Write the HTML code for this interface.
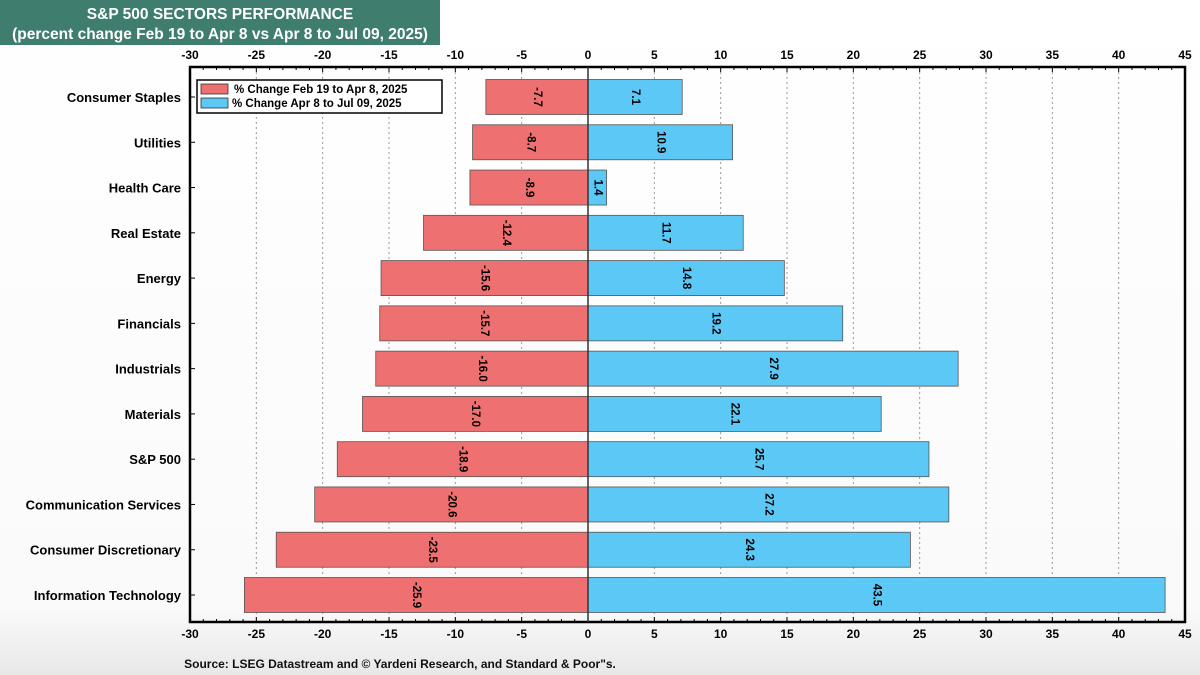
<!DOCTYPE html>
<html><head><meta charset="utf-8"><style>
body{margin:0;background:#fff;}
svg{display:block;font-family:"Liberation Sans",Arial,sans-serif;}
</style></head><body>
<svg id="c" width="1200" height="675">
<defs><linearGradient id="bg" x1="0" y1="0" x2="0" y2="1"><stop offset="0" stop-color="#fff"/><stop offset="0.9" stop-color="#fafafa"/><stop offset="1" stop-color="#e8e8e8"/></linearGradient></defs>
<rect width="1200" height="675" fill="url(#bg)"/>
<g>
<rect x="0" y="0" width="440" height="45" fill="#3f7d6e"/>
<text x="220" y="19" fill="#fff" font-size="15.5" font-weight="bold" text-anchor="middle">S&amp;P 500 SECTORS PERFORMANCE</text>
<text x="220" y="39" fill="#fff" font-size="15.5" font-weight="bold" text-anchor="middle">(percent change Feb 19 to Apr 8 vs Apr 8 to Jul 09, 2025)</text>
</g>
<g id="grid"></g><g id="bars"></g><g id="axes"></g>
<g>
<rect x="197" y="80" width="245" height="33" fill="#fff" stroke="#000" stroke-width="1.5"/>
<rect x="201" y="84" width="27" height="10" fill="#ee7070" stroke="#333" stroke-width="0.8"/>
<text x="234" y="93" font-size="11.5" font-weight="bold">% Change Feb 19 to Apr 8, 2025</text>
<rect x="201" y="98" width="27" height="10" fill="#5bc8f5" stroke="#333" stroke-width="0.8"/>
<text x="232" y="107" font-size="11.5" font-weight="bold">% Change Apr 8 to Jul 09, 2025</text>
</g>
<text x="400" y="668" font-size="12" font-weight="bold" text-anchor="middle" fill="#111">Source: LSEG Datastream and © Yardeni Research, and Standard &amp; Poor"s.</text>
</svg>
<script>
const categories=["Consumer Staples","Utilities","Health Care","Real Estate","Energy","Financials","Industrials","Materials","S&P 500","Communication Services","Consumer Discretionary","Information Technology"];
const febApr=[-7.7,-8.7,-8.9,-12.4,-15.6,-15.7,-16.0,-17.0,-18.9,-20.6,-23.5,-25.9];
const aprJul=[7.1,10.9,1.4,11.7,14.8,19.2,27.9,22.1,25.7,27.2,24.3,43.5];
const ticks=[-30,-25,-20,-15,-10,-5,0,5,10,15,20,25,30,35,40,45];
const NS="http://www.w3.org/2000/svg";
const L=190,R=1185,T=67,B=622,xmin=-30,xmax=45;
const x=v=>L+(v-xmin)/(xmax-xmin)*(R-L);
const firstY=97,lastY=595;
const step=(lastY-firstY)/(categories.length-1);
const y=i=>firstY+step*i;
const bh=35;
function mk(p,t,a){const e=document.createElementNS(NS,t);for(const k in a)e.setAttribute(k,a[k]);document.getElementById(p).appendChild(e);return e;}
ticks.forEach(t=>{
  if(t!==xmin&&t!==xmax&&t!==0){const g=mk('grid','line',{x1:x(t),x2:x(t),y1:T,y2:B,stroke:'#999','stroke-dasharray':'2,3','stroke-width':1});
  
  }
  [[T-8,'x-tick-label-top'],[B+16,'x-tick-label-bottom']].forEach(([yy,n])=>{
    const e=mk('axes','text',{x:x(t),y:yy,'font-size':12,'font-weight':'bold','text-anchor':'middle'});e.textContent=t;
    
    
  });
});
for(let v=xmin;v<=xmax;v++){mk('axes','line',{x1:x(v),x2:x(v),y1:T,y2:T+(v%5?3:5),stroke:'#000'});mk('axes','line',{x1:x(v),x2:x(v),y1:B,y2:B-(v%5?3:5),stroke:'#000'});}
const fr=mk('axes','rect',{x:L,y:T,width:R-L,height:B-T,fill:'none',stroke:'#000','stroke-width':2.5});


categories.forEach((c,i)=>{
  const cy=y(i);
  [[febApr[i],'#ee7070','bar-feb-apr'],[aprJul[i],'#5bc8f5','bar-apr-jul']].forEach(([v,col,n])=>{
    const x0=Math.min(x(0),x(v)),w=Math.abs(x(v)-x(0));
    const r=mk('bars','rect',{x:x0,y:cy-bh/2,width:w,height:bh,fill:col,stroke:'#555','stroke-width':0.8});
    
    
    const cx=x0+w/2;
    const t=mk('bars','text',{x:cx,y:cy,'font-size':11.5,'font-weight':'bold','text-anchor':'middle','dominant-baseline':'central',transform:`rotate(90 ${cx} ${cy})`});
    t.textContent=v.toFixed(1);
    
    
  });
  const lb=mk('axes','text',{x:181,y:cy+5,'font-size':13,'font-weight':'bold','text-anchor':'end'});lb.textContent=c;
  
  
  mk('axes','line',{x1:L,x2:L+5,y1:cy,y2:cy,stroke:'#000'});
});
mk('axes','line',{x1:x(0),x2:x(0),y1:T,y2:B,stroke:'#333','stroke-width':1.5});
</script>
</body></html>
